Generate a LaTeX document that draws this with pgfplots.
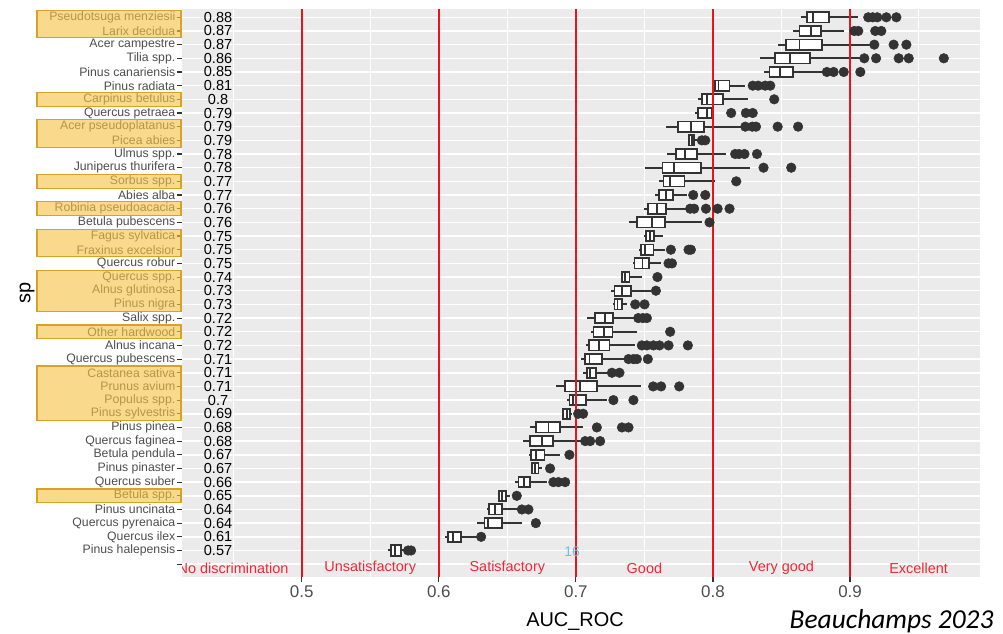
\documentclass[border=0pt]{standalone}
\usepackage{fontspec}
\setmainfont{Liberation Sans}
\newfontfamily\carlito{Carlito}
\usepackage{pgfplots}
\pgfplotsset{compat=1.18}
\usepgfplotslibrary{statistics}

\definecolor{panel}{HTML}{EBEBEB}
\definecolor{txtg}{HTML}{4D4D4D}
\definecolor{tickc}{HTML}{333333}
\definecolor{boxc}{HTML}{333333}
\definecolor{vred}{HTML}{E8141C}
\definecolor{lred}{HTML}{EB2A35}
\definecolor{hlfill}{RGB}{245,195,70}
\definecolor{hlbord}{RGB}{214,162,40}
\definecolor{sky}{RGB}{110,190,235}

% one horizontal box: row, lower whisker, Q1, median, Q3, upper whisker, outliers
\newcommand{\bx}[7]{\addplot[bxs, boxplot prepared={draw position=#1,
  lower whisker=#2, lower quartile=#3, median=#4,
  upper quartile=#5, upper whisker=#6}] coordinates {#7};}
% yellow highlight over rows #1..#2 of the species labels
\newcommand{\hl}[2]{\filldraw[fill=hlfill, fill opacity=0.62, draw=hlbord, line width=1.2bp]
  (37bp,{(623.5-13.67*(#1-1))*1bp}) rectangle (181bp,{(609.9-13.67*(#2-1))*1bp});}

\begin{document}
\begin{tikzpicture}
\useasboundingbox (0,0) rectangle (1003bp,634bp);
\begin{axis}[
  at={(182bp,57bp)}, anchor=south west,
  scale only axis, width=798bp, height=568bp,
  xmin=0.4127, xmax=0.9948,
  ymin=0.393, ymax=41.94, y dir=reverse,
  axis background/.style={fill=panel},
  axis line style={draw=none},
  xtick={0.5,0.6,0.7,0.8,0.9},
  minor xtick={0.45,0.55,0.65,0.75,0.85,0.95},
  ytick={1,...,41},
  yticklabels={Pseudotsuga menziesii, Larix decidua, Acer campestre, Tilia spp.,
    Pinus canariensis, Pinus radiata, Carpinus betulus, Quercus petraea,
    Acer pseudoplatanus, Picea abies, Ulmus spp., Juniperus thurifera,
    Sorbus spp., Abies alba, Robinia pseudoacacia, Betula pubescens,
    Fagus sylvatica, Fraxinus excelsior, Quercus robur, Quercus spp.,
    Alnus glutinosa, Pinus nigra, Salix spp., Other hardwood, Alnus incana,
    Quercus pubescens, Castanea sativa, Prunus avium, Populus spp.,
    Pinus sylvestris, Pinus pinea, Quercus faginea, Betula pendula,
    Pinus pinaster, Quercus suber, Betula spp., Pinus uncinata,
    Quercus pyrenaica, Quercus ilex, Pinus halepensis, {}},
  grid=both,
  major grid style={white, line width=1.5bp},
  minor grid style={white, line width=0.8bp},
  tick pos=left, tick align=outside,
  major tick length=5bp, minor tick length=0pt,
  tick style={tickc, line width=1.1bp},
  xticklabel style={font=\fontsize{17}{19}\selectfont, text=txtg},
  yticklabel style={font=\fontsize{12.3}{13}\selectfont, text=txtg, inner sep=1.5bp},
  /pgf/number format/assume math mode=true,
  xlabel={AUC\_ROC},
  xlabel style={font=\fontsize{20}{22}\selectfont, at={(axis description cs:0.4925,0)}, anchor=center, yshift=-45bp},
  ylabel={sp},
  ylabel style={font=\fontsize{20}{22}\selectfont, at={([xshift=-155bp]axis description cs:0,0.5)}, anchor=center},
  boxplot/draw direction=x,
  boxplot/box extend=0.75,
  boxplot/whisker extend=0,
  boxplot/every box/.style={draw=boxc, fill=white, line width=1.8bp},
  boxplot/every whisker/.style={draw=boxc, line width=2bp},
  boxplot/every median/.style={draw=boxc, line width=1.8bp},
  bxs/.style={draw=boxc, fill=white, line width=1.8bp, solid, mark=*, mark size=4.8bp,
    mark options={fill=boxc, draw=boxc, line width=0.5bp}},
]
\bx{1}{0.8644}{0.8688}{0.8732}{0.8849}{0.9060}{(0,0.9133)(0,0.9165)(0,0.9199)(0,0.9265)(0,0.9338)}
\bx{2}{0.8584}{0.8632}{0.8715}{0.8790}{0.8958}{(0,0.9031)(0,0.9060)(0,0.9184)(0,0.9228)}
\bx{3}{0.8471}{0.8535}{0.8632}{0.8795}{0.9148}{(0,0.9177)(0,0.9318)(0,0.9411)}
\bx{4}{0.8345}{0.8455}{0.8564}{0.8710}{0.9075}{(0,0.9104)(0,0.9190)(0,0.9355)(0,0.9428)(0,0.9684)}
\bx{5}{0.8369}{0.8413}{0.8491}{0.8584}{0.8819}{(0,0.8831)(0,0.8880)(0,0.8954)(0,0.9075)}
\bx{6}{0.8000}{0.8012}{0.8041}{0.8121}{0.8236}{(0,0.8290)(0,0.8330)(0,0.8381)(0,0.8418)}
\bx{7}{0.7890}{0.7919}{0.7956}{0.8073}{0.8253}{(0,0.8447)}
\bx{8}{0.7871}{0.7888}{0.7956}{0.7995}{0.8005}{(0,0.8133)(0,0.8240)(0,0.8290)}
\bx{9}{0.7659}{0.7744}{0.7839}{0.7936}{0.8211}{(0,0.8236)(0,0.8287)(0,0.8314)(0,0.8472)(0,0.8621)}
\bx{10}{0.7820}{0.7827}{0.7845}{0.7863}{0.7880}{(0,0.7919)(0,0.7944)}
\bx{11}{0.7664}{0.7730}{0.7798}{0.7883}{0.8095}{(0,0.8162)(0,0.8190)(0,0.8230)(0,0.8321)}
\bx{12}{0.7506}{0.7632}{0.7717}{0.7914}{0.8267}{(0,0.8369)(0,0.8571)}
\bx{13}{0.7610}{0.7639}{0.7688}{0.7793}{0.8017}{(0,0.8170)}
\bx{14}{0.7579}{0.7606}{0.7659}{0.7708}{0.7810}{(0,0.7856)(0,0.7944)}
\bx{15}{0.7498}{0.7525}{0.7591}{0.7657}{0.7810}{(0,0.7834)(0,0.7863)(0,0.7949)(0,0.8034)(0,0.8121)}
\bx{16}{0.7384}{0.7445}{0.7555}{0.7652}{0.7919}{(0,0.7975)}
\bx{17}{0.7500}{0.7511}{0.7542}{0.7572}{0.7635}{}
\bx{18}{0.7457}{0.7474}{0.7506}{0.7566}{0.7652}{(0,0.7693)(0,0.7822)(0,0.7839)}
\bx{19}{0.7416}{0.7428}{0.7486}{0.7535}{0.7623}{(0,0.7676)(0,0.7701)}
\bx{20}{0.7328}{0.7335}{0.7359}{0.7391}{0.7481}{(0,0.7595)}
\bx{21}{0.7257}{0.7282}{0.7335}{0.7404}{0.7545}{(0,0.7584)}
\bx{22}{0.7274}{0.7282}{0.7304}{0.7335}{0.7372}{(0,0.7433)(0,0.7501)}
\bx{23}{0.7084}{0.7140}{0.7213}{0.7270}{0.7440}{(0,0.7455)(0,0.7489)(0,0.7518)}
\bx{24}{0.7109}{0.7128}{0.7206}{0.7267}{0.7445}{(0,0.7688)}
\bx{25}{0.7075}{0.7097}{0.7169}{0.7245}{0.7433}{(0,0.7481)(0,0.7518)(0,0.7566)(0,0.7610)(0,0.7676)(0,0.7817)}
\bx{26}{0.7036}{0.7068}{0.7099}{0.7190}{0.7360}{(0,0.7384)(0,0.7420)(0,0.7445)(0,0.7525)}
\bx{27}{0.7055}{0.7080}{0.7104}{0.7148}{0.7238}{(0,0.7263)(0,0.7318)}
\bx{28}{0.6856}{0.6922}{0.7031}{0.7153}{0.7474}{(0,0.7564)(0,0.7622)(0,0.7754)}
\bx{29}{0.6934}{0.6953}{0.6982}{0.7075}{0.7226}{(0,0.7274)(0,0.7420)}
\bx{30}{0.6900}{0.6909}{0.6934}{0.6958}{0.6975}{(0,0.7017)(0,0.7053)}
\bx{31}{0.6666}{0.6710}{0.6800}{0.6885}{0.7055}{(0,0.7153)(0,0.7336)(0,0.7384)}
\bx{32}{0.6617}{0.6666}{0.6752}{0.6836}{0.7044}{(0,0.7068)(0,0.7104)(0,0.7177)}
\bx{33}{0.6659}{0.6671}{0.6710}{0.6771}{0.6885}{(0,0.6953)}
\bx{34}{0.6674}{0.6679}{0.6703}{0.6727}{0.6752}{(0,0.6812)}
\bx{35}{0.6557}{0.6581}{0.6623}{0.6666}{0.6788}{(0,0.6836)(0,0.6873)(0,0.6922)}
\bx{36}{0.6430}{0.6440}{0.6464}{0.6491}{0.6520}{(0,0.6569)}
\bx{37}{0.6350}{0.6369}{0.6411}{0.6460}{0.6581}{(0,0.6606)(0,0.6654)}
\bx{38}{0.6277}{0.6333}{0.6362}{0.6460}{0.6606}{(0,0.6708)}
\bx{39}{0.6046}{0.6065}{0.6106}{0.6163}{0.6277}{(0,0.6309)}
\bx{40}{0.5630}{0.5652}{0.5681}{0.5725}{0.5761}{(0,0.5776)(0,0.5798)}

% class limits
\addplot[vred, line width=2.2bp, forget plot] coordinates {(0.5,0.393) (0.5,41.94)};
\addplot[vred, line width=2.2bp, forget plot] coordinates {(0.6,0.393) (0.6,41.94)};
\addplot[vred, line width=2.2bp, forget plot] coordinates {(0.7,0.393) (0.7,41.94)};
\addplot[vred, line width=2.2bp, forget plot] coordinates {(0.8,0.393) (0.8,41.94)};
\addplot[vred, line width=2.2bp, forget plot] coordinates {(0.9,0.393) (0.9,41.94)};

% value printed beside each species
\addplot[draw=none, mark=none, nodes near coords, point meta=explicit symbolic,
  nodes near coords style={anchor=center, font=\fontsize{14.6}{15}\selectfont, text=black, inner sep=0pt}]
  table[meta index=2] {
x y lab
0.439 1 0.88
0.439 2 0.87
0.439 3 0.87
0.439 4 0.86
0.439 5 0.85
0.439 6 0.81
0.439 7 0.8
0.439 8 0.79
0.439 9 0.79
0.439 10 0.79
0.439 11 0.78
0.439 12 0.78
0.439 13 0.77
0.439 14 0.77
0.439 15 0.76
0.439 16 0.76
0.439 17 0.75
0.439 18 0.75
0.439 19 0.75
0.439 20 0.74
0.439 21 0.73
0.439 22 0.73
0.439 23 0.72
0.439 24 0.72
0.439 25 0.72
0.439 26 0.71
0.439 27 0.71
0.439 28 0.71
0.439 29 0.7
0.439 30 0.69
0.439 31 0.68
0.439 32 0.68
0.439 33 0.67
0.439 34 0.67
0.439 35 0.66
0.439 36 0.65
0.439 37 0.64
0.439 38 0.64
0.439 39 0.61
0.439 40 0.57
};

\begin{scope}
\clip (axis cs:0.4127,0.393) rectangle (axis cs:0.9948,41.94);
\begin{scope}[every node/.style={text=lred, font=\fontsize{14.5}{15}\selectfont}]
\node at (axis cs:0.45,41.3) {No discrimination};
\node at (axis cs:0.55,41.3) {Unsatisfactory};
\node at (axis cs:0.65,41.3) {Satisfactory};
\node at (axis cs:0.75,41.3) {Good};
\node at (axis cs:0.85,41.3) {Very good};
\node at (axis cs:0.95,41.3) {Excellent};
\end{scope}
\end{scope}
\node[text=sky, font=\fontsize{14}{15}\selectfont] at (axis cs:0.6973,40.11) {16};
\end{axis}

\hl{1}{2}
\hl{7}{7}
\hl{9}{10}
\hl{13}{13}
\hl{15}{15}
\hl{17}{18}
\hl{20}{22}
\hl{24}{24}
\hl{27}{30}
\hl{36}{36}

\node[anchor=base east, font=\carlito\itshape\fontsize{27.5}{29}\selectfont] at (997bp,6bp) {Beauchamps 2023};
\end{tikzpicture}
\end{document}
